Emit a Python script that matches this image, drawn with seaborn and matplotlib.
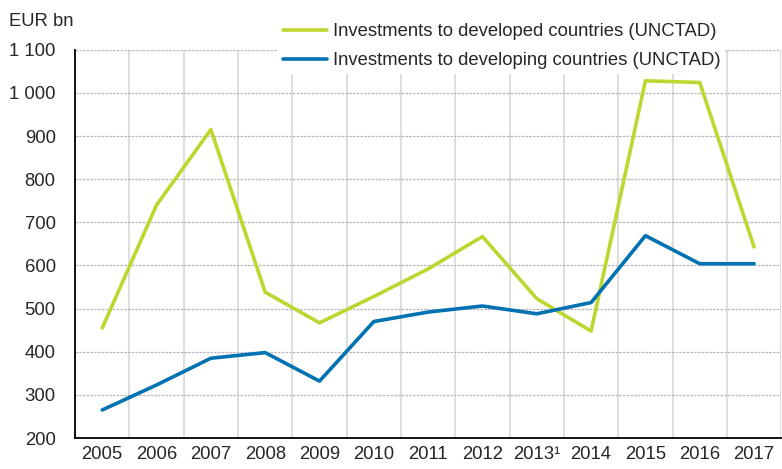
import matplotlib
matplotlib.use("Agg")
import matplotlib.pyplot as plt
import matplotlib.ticker as mticker
import seaborn as sns
import pandas as pd
import numpy as np

# --- data (EUR bn) ---
years = ["2005", "2006", "2007", "2008", "2009", "2010", "2011", "2012",
         "2013¹", "2014", "2015", "2016", "2017"]
developed = [455, 740, 915, 538, 467, 528, 592, 667, 523, 448, 1028, 1024, 643]
developing = [265, 323, 385, 398, 332, 470, 492, 506, 488, 514, 669, 604, 604]
series_names = ["Investments to developed countries (UNCTAD)",
                "Investments to developing countries (UNCTAD)"]
colors = ["#BED62F", "#0072B2"]

df = pd.DataFrame({
    "pos": list(range(len(years))) * 2,
    "value": developed + developing,
    "series": [series_names[0]] * len(years) + [series_names[1]] * len(years),
})

sns.set_style("white")
plt.rcParams["font.family"] = ["Liberation Sans", "DejaVu Sans"]
fs = 13.3

fig = plt.figure(figsize=(7.82, 4.69), dpi=100)
ax = fig.add_axes([0.096, 0.066, 0.903, 0.828])

sns.lineplot(data=df, x="pos", y="value", hue="series",
             palette=colors, linewidth=2.6, ax=ax, legend=False)

ax.set_xlim(-0.5, len(years) - 0.5)
ax.set_ylim(200, 1100)
ax.yaxis.set_major_locator(mticker.MultipleLocator(100))
ax.yaxis.set_major_formatter(mticker.FuncFormatter(
    lambda v, p: f"{int(v):,}".replace(",", " ")))

# ticks at category boundaries, labels at centres
ax.set_xticks(np.arange(-0.5, len(years), 1.0))
ax.set_xticklabels([])
ax.set_xticks(np.arange(len(years)), minor=True)
ax.set_xticklabels(years, minor=True)
ax.tick_params(axis="x", which="minor", length=0, pad=6, labelsize=fs)
ax.tick_params(axis="x", which="major", length=5, width=1.2, color="black",
               direction="out")
ax.tick_params(axis="y", length=6, width=1.2, color="black", direction="out",
               labelsize=fs, pad=8)

ax.grid(axis="x", which="major", color="#D6DAD6", linewidth=1.2)
ax.grid(axis="y", color="#B8B3BC", linewidth=0.9, linestyle=(0, (2, 1)))
ax.set_axisbelow(True)
for s in ["top", "right"]:
    ax.spines[s].set_visible(False)
for s in ["left", "bottom"]:
    ax.spines[s].set_color("black")
    ax.spines[s].set_linewidth(1.3)

ax.set_xlabel("")
ax.set_ylabel("")
fig.text(0.012, 0.955, "EUR bn", fontsize=fs, va="center", ha="left")

handles = [plt.Line2D([], [], color=c, linewidth=2.6) for c in colors]
leg = fig.legend(handles, series_names, loc="upper left",
                 bbox_to_anchor=(0.356, 0.96), frameon=True, fontsize=fs,
                 handlelength=2.4, handletextpad=0.3, labelspacing=0.65,
                 borderpad=0.25, borderaxespad=0)
leg.get_frame().set_facecolor("white")
leg.get_frame().set_edgecolor("none")
leg.get_frame().set_alpha(1)

fig.savefig("out.png", dpi=100)
